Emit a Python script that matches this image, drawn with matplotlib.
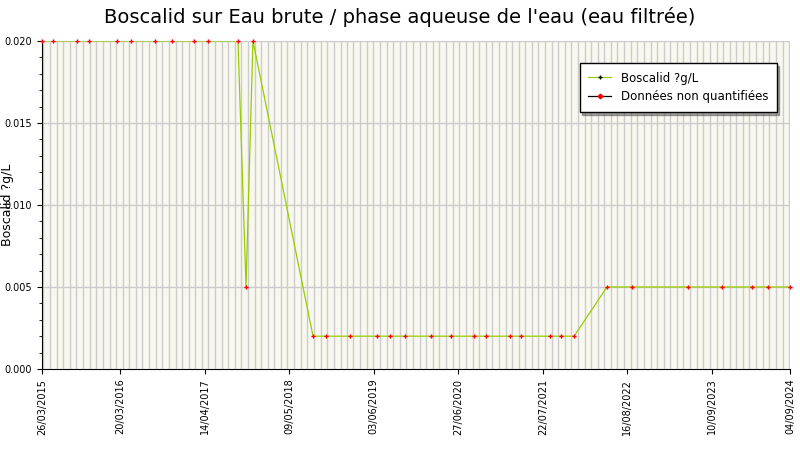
import matplotlib
matplotlib.use("Agg")
import matplotlib.pyplot as plt
import pandas as pd

dates = ["2015-03-26","2015-05-16","2015-09-03","2015-10-29","2016-03-06","2016-05-09","2016-08-28",
         "2016-11-15","2017-02-24","2017-04-30","2017-09-15","2017-10-22","2017-11-23","2018-08-27",
         "2018-10-26","2019-02-14","2019-06-18","2019-08-17","2019-10-25","2020-02-22","2020-05-25",
         "2020-09-08","2020-11-02","2021-02-21","2021-04-12","2021-08-24","2021-10-14","2021-12-13",
         "2022-05-14","2022-09-06","2023-05-22","2023-10-26","2024-03-12","2024-05-25","2024-09-04"]
values = [0.02, 0.02, 0.02, 0.02, 0.02, 0.02, 0.02, 0.02, 0.02, 0.02, 0.02, 0.005, 0.02,
          0.002, 0.002, 0.002, 0.002, 0.002, 0.002, 0.002, 0.002, 0.002, 0.002, 0.002, 0.002,
          0.002, 0.002, 0.002,
          0.005, 0.005, 0.005, 0.005, 0.005, 0.005, 0.005]
tick_labels = ["26/03/2015","20/03/2016","14/04/2017","09/05/2018","03/06/2019","27/06/2020",
               "22/07/2021","16/08/2022","10/09/2023","04/09/2024"]

d = pd.to_datetime(dates)
ticks = pd.to_datetime(tick_labels, format="%d/%m/%Y")

fig = plt.figure(figsize=(8, 4.5), dpi=100)
ax = fig.add_axes([42/800, 1-369/450, 748/800, 328/450])
ax.set_facecolor("#f8f8f0")
xmin, xmax = pd.Timestamp("2015-03-26"), pd.Timestamp("2024-09-04")
for g in pd.date_range(xmin, xmax, freq="MS"):
    ax.axvline(g, color="#cccccc", lw=1, zorder=0)
for yv in [0.005, 0.01, 0.015, 0.02]:
    ax.axhline(yv, color="#cccccc", lw=1, zorder=0)
ax.plot(d, values, color="#99cc00", lw=0.9, zorder=2)
ax.plot(d, values, ls="none", marker="P", color="red", ms=3, mew=0, zorder=3, clip_on=False)
ax.plot([], [], color="#99cc00", lw=0.9, marker="+", mec="black", ms=3, label="Boscalid ?g/L")
ax.plot([], [], color="black", lw=0.9, marker="P", mfc="red", mec="red", ms=3, label="Données non quantifiées")
ax.set_xlim(xmin, xmax)
ax.set_ylim(0, 0.02)
ax.set_xticks(ticks)
ax.set_xticklabels(tick_labels, rotation=90, fontsize=7)
ax.set_yticks([0, 0.005, 0.01, 0.015, 0.02])
ax.set_yticklabels(["0.000","0.005","0.010","0.015","0.020"], fontsize=7)
ax.yaxis.set_minor_locator(matplotlib.ticker.MultipleLocator(0.001))
for s in ["top","right"]:
    ax.spines[s].set_visible(False)
ax.set_ylabel("Boscalid ?g/L", fontsize=9)
ax.yaxis.set_label_coords(-0.038, 0.5)
fig.suptitle("Boscalid sur Eau brute / phase aqueuse de l'eau (eau filtrée)", fontsize=14, y=0.985)
ax.legend(loc="upper right", bbox_to_anchor=(0.99, 0.95), fontsize=8.5, fancybox=False,
          shadow=True, edgecolor="black", framealpha=1, borderpad=0.7)
fig.savefig("out.png")
